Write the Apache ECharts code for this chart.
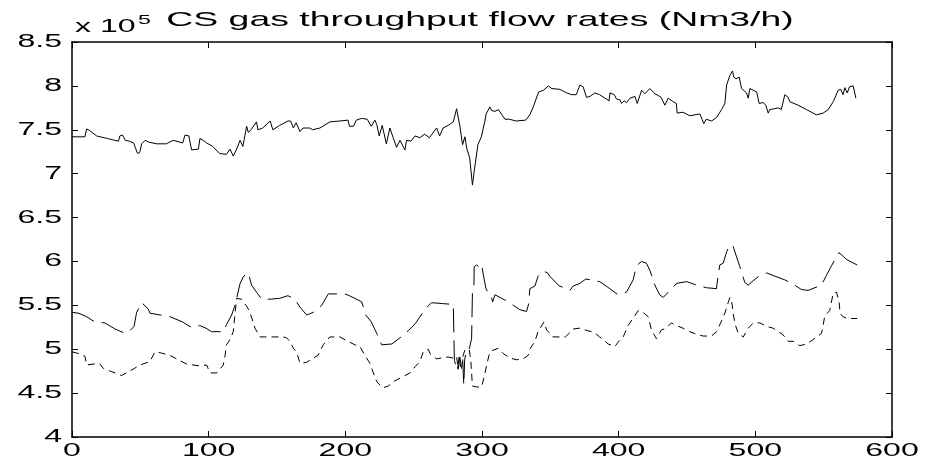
<!DOCTYPE html>
<html>
<head>
<meta charset="utf-8">
<script src="https://cdn.jsdelivr.net/npm/echarts@6/dist/echarts.min.js"></script>
<style>
html, body { margin: 0; padding: 0; background: #fff; }
#main { width: 925px; height: 464px; }
</style>
</head>
<body>
<div id="main"></div>
<script>
var xTicks = [0, 100, 200, 300, 400, 500, 600];
var xTickLabels = ['0', '100', '200', '300', '400', '500', '600'];
var yTicks = [4, 4.5, 5, 5.5, 6, 6.5, 7, 7.5, 8, 8.5];
var yTickLabels = ['4', '4.5', '5', '5.5', '6', '6.5', '7', '7.5', '8', '8.5'];
var titleText = 'CS gas throughput flow rates (Nm3/h)';

// total throughput (solid)
var topX = [0, 9.5, 10.7, 13, 18, 26, 34, 35, 37, 39, 42, 45, 48, 49.5, 51, 53.5, 56, 62, 69, 74, 81, 82.7, 85.5, 87.5, 92.5, 93.6, 96, 98.5, 103, 108, 113, 115.6, 118, 120.5, 123, 125, 127.8, 129, 131, 135, 136, 139.5, 145, 147, 152, 158, 160, 162, 164, 166.8, 169, 174, 176, 181.4, 188.7, 196, 202, 203, 206, 208, 212, 216, 219, 221.6, 223, 224.8, 227, 230, 232.6, 235, 237.5, 240, 243.6, 244.8, 248, 251, 254.5, 258, 261.5, 266.8, 269, 271.5, 275.3, 279, 281.4, 283.8, 285.8, 287.5, 288.8, 291, 293, 294.5, 297, 299.5, 302, 303, 305.8, 307, 309.5, 312, 313, 316.8, 320, 325, 332, 335, 337.5, 341.4, 345, 348.5, 351, 357, 362, 365.5, 369, 371.6, 374, 376.5, 379, 382.6, 386, 393, 393.6, 396.8, 398.4, 401, 402.1, 404, 405.8, 408.2, 411.9, 413.6, 416.8, 419.2, 422.8, 426.5, 429, 431, 433.8, 436.2, 439.9, 442.2, 442.8, 447, 452, 459.4, 461, 462.3, 464, 468, 471.6, 475.3, 477.7, 479, 481.4, 483.3, 484.3, 485.8, 488.2, 489.9, 493.6, 494.8, 496, 501, 502.8, 505.7, 507.7, 509.4, 510.6, 514.2, 516.7, 519, 521.6, 524, 525.2, 531.3, 537.4, 544.7, 549.6, 553.3, 557, 560.6, 562.5, 564.2, 565.5, 567.2, 569, 571.6, 573, 573.6];
var topY = [7.42, 7.42, 7.51, 7.49, 7.43, 7.40, 7.37, 7.43, 7.44, 7.38, 7.37, 7.35, 7.23, 7.24, 7.34, 7.38, 7.36, 7.34, 7.34, 7.38, 7.35, 7.44, 7.43, 7.27, 7.28, 7.40, 7.38, 7.35, 7.31, 7.23, 7.22, 7.28, 7.20, 7.28, 7.38, 7.31, 7.54, 7.47, 7.50, 7.59, 7.50, 7.52, 7.60, 7.50, 7.55, 7.60, 7.60, 7.52, 7.58, 7.48, 7.52, 7.52, 7.50, 7.52, 7.59, 7.60, 7.61, 7.54, 7.54, 7.61, 7.63, 7.62, 7.54, 7.61, 7.56, 7.43, 7.55, 7.34, 7.52, 7.41, 7.30, 7.38, 7.27, 7.38, 7.37, 7.43, 7.41, 7.45, 7.41, 7.52, 7.43, 7.52, 7.55, 7.59, 7.74, 7.54, 7.33, 7.42, 7.29, 7.18, 6.87, 7.05, 7.33, 7.42, 7.59, 7.68, 7.76, 7.72, 7.71, 7.73, 7.72, 7.62, 7.62, 7.60, 7.61, 7.67, 7.76, 7.93, 7.95, 8.00, 7.97, 7.96, 7.92, 7.90, 7.90, 8.01, 7.99, 7.87, 7.88, 7.92, 7.90, 7.83, 7.92, 7.90, 7.85, 7.84, 7.80, 7.83, 7.81, 7.86, 7.88, 7.80, 7.95, 7.91, 7.97, 7.91, 7.89, 7.87, 7.78, 7.86, 7.82, 7.80, 7.69, 7.70, 7.66, 7.68, 7.62, 7.57, 7.62, 7.60, 7.64, 7.73, 7.80, 8.01, 8.12, 8.17, 8.10, 8.08, 8.10, 7.97, 7.92, 7.86, 7.97, 7.93, 7.80, 7.81, 7.78, 7.69, 7.73, 7.74, 7.75, 7.73, 7.90, 7.87, 7.82, 7.78, 7.73, 7.67, 7.69, 7.73, 7.82, 7.95, 7.96, 7.90, 7.98, 7.92, 7.99, 8.00, 8.00, 7.86];

// second line (long dashes)
var midX = [0, 5, 10.7, 16.8, 24, 31.6, 37.5, 41, 45.4, 46.5, 47.3, 51, 55.7, 57, 61, 64.5, 71.7, 81, 85, 88.7, 93.5, 98, 102, 110.7, 113, 116.8, 119, 120.5, 123, 125.5, 129, 131.4, 135, 138.8, 145, 152, 158, 163, 166.8, 171.7, 176.5, 182.7, 187.5, 199.7, 203, 212, 215, 219, 223, 226.6, 234, 240, 246, 251.6, 258, 263, 271, 279, 279.8, 281.9, 283.3, 284.3, 285.8, 286.7, 287.3, 288.7, 290.6, 292.4, 292.8, 293, 294.1, 294.3, 296, 297.3, 298.5, 299.7, 301.7, 302.9, 304.7, 306.5, 307.8, 309.5, 310.7, 318, 323, 327.7, 332.6, 333.8, 334.2, 335, 338.7, 341, 344.8, 348, 349.7, 356.5, 360.5, 364.3, 366.7, 371.6, 376, 386.2, 393.5, 399.6, 405.7, 410.6, 413, 416.7, 420.3, 422.8, 426.5, 430, 432.6, 437.5, 442.4, 449.7, 457, 464.3, 471.6, 472, 474, 476.5, 479, 481.4, 483.8, 486.3, 488.7, 492.3, 494.8, 498.4, 503.3, 508.2, 513, 521.6, 527.7, 533.8, 538.6, 540, 548.4, 552, 555.7, 558.2, 561.3, 567, 570.7, 574.5];
var midY = [5.42, 5.41, 5.37, 5.31, 5.30, 5.23, 5.19, 5.19, 5.26, 5.27, 5.42, 5.53, 5.46, 5.41, 5.40, 5.39, 5.37, 5.31, 5.27, 5.24, 5.27, 5.24, 5.20, 5.20, 5.28, 5.39, 5.49, 5.58, 5.75, 5.83, 5.87, 5.73, 5.65, 5.57, 5.57, 5.58, 5.61, 5.57, 5.48, 5.39, 5.42, 5.50, 5.63, 5.63, 5.61, 5.54, 5.39, 5.31, 5.18, 5.05, 5.06, 5.13, 5.21, 5.30, 5.45, 5.53, 5.52, 5.51, 4.87, 4.76, 4.91, 4.80, 4.90, 4.59, 4.88, 4.99, 5.00, 5.12, 5.14, 5.65, 5.73, 5.94, 5.96, 5.97, 5.93, 5.96, 5.79, 5.69, 5.64, 5.62, 5.54, 5.62, 5.64, 5.55, 5.50, 5.45, 5.43, 5.43, 5.52, 5.69, 5.72, 5.83, 5.89, 5.87, 5.83, 5.72, 5.70, 5.67, 5.72, 5.75, 5.80, 5.77, 5.69, 5.62, 5.65, 5.79, 5.95, 6.00, 5.98, 5.90, 5.73, 5.62, 5.59, 5.67, 5.75, 5.77, 5.73, 5.70, 5.69, 5.75, 5.96, 5.98, 6.11, 6.19, 6.17, 6.05, 5.94, 5.76, 5.73, 5.78, 5.84, 5.87, 5.84, 5.79, 5.74, 5.68, 5.67, 5.68, 5.73, 5.84, 5.95, 6.02, 6.10, 6.02, 5.99, 5.96];

// third line (short dashes)
var lowX = [0, 5, 9.5, 10.7, 15.5, 20, 23, 28, 31.5, 36.3, 42, 45.5, 49.7, 57, 60.7, 64.5, 71.7, 76.5, 84, 93.7, 98.5, 101, 106, 110.7, 112, 113, 115.6, 118, 119.2, 120.5, 124, 127.8, 130, 133.9, 137.5, 142, 148, 154.6, 157, 159.5, 162, 164.3, 166.8, 171.7, 176.5, 180, 183.8, 188.7, 196, 202, 207, 210.7, 214.3, 218, 220.5, 223, 227.3, 231.4, 235, 242.4, 247.3, 251, 254.6, 257, 260.7, 262, 266.8, 272.9, 275.3, 279, 281.4, 282.6, 283.8, 285, 286.2, 287.5, 288.7, 290.6, 291.8, 293, 296, 299.7, 301.8, 304, 305.8, 308.2, 311.9, 315.6, 320.5, 325.3, 330, 333.8, 335, 338.7, 341, 345.3, 347.3, 352, 357, 361, 364.3, 366.7, 371.6, 377.5, 382.4, 386, 388.8, 392.3, 397.2, 399.6, 403.3, 406.9, 410.5, 414.3, 418, 421.6, 424, 427.6, 431.3, 434.9, 438.6, 442.2, 447, 452, 457, 461.8, 467.9, 471.6, 475.2, 477.7, 480.1, 481.4, 482.6, 483.8, 485.1, 487.5, 491.2, 494.8, 498.5, 503.3, 508.2, 513, 516.7, 520, 524, 527.7, 532.6, 537.4, 542.3, 548.4, 549.6, 550.8, 554.4, 557, 559.4, 561.3, 562, 564, 567.5, 574.5];
var lowY = [4.97, 4.95, 4.92, 4.82, 4.83, 4.84, 4.78, 4.75, 4.73, 4.70, 4.75, 4.78, 4.82, 4.86, 4.97, 4.96, 4.93, 4.89, 4.83, 4.81, 4.82, 4.73, 4.73, 4.82, 4.93, 5.05, 5.11, 5.20, 5.39, 5.58, 5.57, 5.49, 5.43, 5.24, 5.14, 5.14, 5.14, 5.14, 5.13, 5.09, 5.01, 4.97, 4.84, 4.85, 4.90, 4.93, 5.05, 5.14, 5.14, 5.09, 5.05, 5.03, 4.93, 4.84, 4.73, 4.63, 4.56, 4.58, 4.63, 4.69, 4.73, 4.80, 4.86, 4.97, 5.00, 4.95, 4.89, 4.91, 4.91, 4.90, 4.92, 4.77, 4.91, 4.78, 4.93, 4.99, 5.00, 5.00, 4.87, 4.58, 4.57, 4.57, 4.70, 4.86, 4.97, 4.99, 5.01, 4.95, 4.90, 4.88, 4.89, 4.93, 5.00, 5.09, 5.20, 5.31, 5.22, 5.14, 5.14, 5.14, 5.19, 5.23, 5.24, 5.21, 5.19, 5.14, 5.11, 5.06, 5.03, 5.08, 5.14, 5.27, 5.35, 5.44, 5.42, 5.37, 5.22, 5.12, 5.22, 5.24, 5.30, 5.27, 5.24, 5.20, 5.17, 5.15, 5.15, 5.20, 5.32, 5.41, 5.53, 5.59, 5.56, 5.41, 5.29, 5.18, 5.14, 5.24, 5.30, 5.30, 5.26, 5.24, 5.20, 5.17, 5.09, 5.09, 5.04, 5.06, 5.11, 5.18, 5.27, 5.38, 5.44, 5.64, 5.65, 5.54, 5.41, 5.37, 5.35, 5.35];

function pairs(xs, ys) {
	var out = [];
	for (var i = 0; i < xs.length; i++) out.push([xs[i], ys[i]]);
	return out;
}

var font = '"Liberation Sans", Arial, Helvetica, sans-serif';
var stretch = 1.78;   // the reference text is drawn wide

var chart = echarts.init(document.getElementById('main'));

function boxAxis(pos, isX) {
	var a = {
		type: 'value',
		position: pos,
		min: isX ? 0 : 4,
		max: isX ? 600 : 8.5,
		interval: isX ? 100 : 0.5,
		axisLine: { show: true, onZero: false, lineStyle: { color: '#000', width: 1.5 } },
		axisTick: { show: true, inside: true, length: 6, lineStyle: { color: '#000', width: 1 } },
		axisLabel: { show: false },
		splitLine: { show: false }
	};
	return a;
}

var lineStyle = function (type) {
	return { color: '#000', width: 1, type: type };
};

var option = {
	animation: false,
	backgroundColor: '#fff',
	grid: { left: 72, right: 33, top: 42, bottom: 27, containLabel: false },
	xAxis: [boxAxis('bottom', true), boxAxis('top', true)],
	yAxis: [boxAxis('left', false), boxAxis('right', false)],
	series: [
		{ name: 'total', type: 'line', symbol: 'none', data: pairs(topX, topY), lineStyle: lineStyle('solid') },
		{ name: 'line 2', type: 'line', symbol: 'none', data: pairs(midX, midY), lineStyle: lineStyle([24, 8]) },
		{ name: 'line 3', type: 'line', symbol: 'none', data: pairs(lowX, lowY), lineStyle: lineStyle([7, 5]) }
	]
};
chart.setOption(option);

// text, stretched sideways like the reference; tick labels are placed through the axis scales
function label(txt, x, y, size, align, valign) {
	return {
		type: 'text', x: x, y: y, scaleX: stretch, silent: true,
		style: {
			text: txt, font: size + 'px ' + font, fill: '#000',
			align: align, verticalAlign: valign,
			textAlign: align, textVerticalAlign: valign
		}
	};
}

var g = [];
var left = chart.convertToPixel({ gridIndex: 0 }, [0, 4]);
xTicks.forEach(function (v, i) {
	var p = chart.convertToPixel({ gridIndex: 0 }, [v, 4]);
	g.push(label(xTickLabels[i], p[0], p[1] + 14, 18, 'center', 'middle'));
});
yTicks.forEach(function (v, i) {
	var p = chart.convertToPixel({ gridIndex: 0 }, [0, v]);
	g.push(label(yTickLabels[i], left[0] - 10, p[1], 18, 'right', 'middle'));
});
g.push(label(titleText, 480, 20, 21, 'center', 'middle'));
g.push(label('x 10', 75, 27, 18, 'left', 'middle'));
g.push(label('5', 138, 20, 13, 'left', 'middle'));

chart.setOption({ graphic: g });
</script>
</body>
</html>
